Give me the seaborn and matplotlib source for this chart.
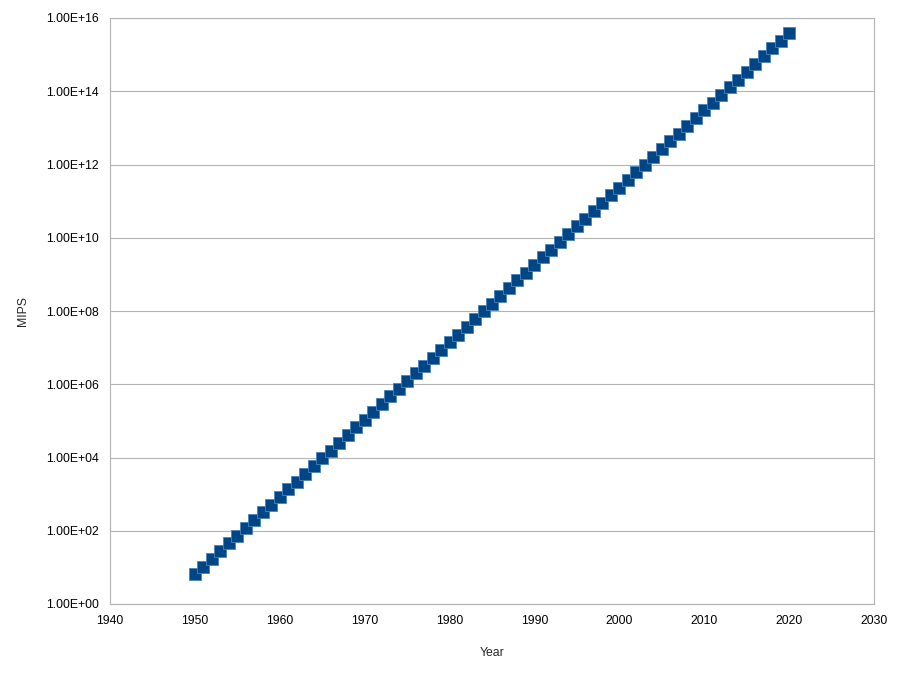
import numpy as np
import pandas as pd
import matplotlib
matplotlib.use("Agg")
import matplotlib.pyplot as plt
import matplotlib.ticker as mticker
import seaborn as sns

# Data (one point per year)
years = list(range(1950, 2021))
mips = [
    6.5, 10.5, 17.1, 27.8, 45.2, 73.6, 120, 195, 316, 514,
    836, 1360, 2210, 3590, 5830, 9500, 15500, 25100, 40800, 66400,
    1.08e5, 1.75e5, 2.85e5, 4.63e5, 7.53e5, 1.23e6, 2.0e6, 3.24e6, 5.27e6, 8.57e6,
    1.39e7, 2.26e7, 3.68e7, 5.98e7, 9.72e7, 1.58e8, 2.58e8, 4.19e8, 6.81e8, 1.11e9,
    1.80e9, 2.92e9, 4.75e9, 7.73e9, 1.26e10, 2.05e10, 3.33e10, 5.41e10, 8.79e10, 1.43e11,
    2.32e11, 3.78e11, 6.14e11, 9.98e11, 1.62e12, 2.64e12, 4.30e12, 6.98e12, 1.14e13, 1.85e13,
    3.00e13, 4.88e13, 7.93e13, 1.29e14, 2.09e14, 3.41e14, 5.55e14, 9.02e14, 1.47e15, 2.38e15,
    3.87e15,
]
x_ticks = [1940, 1950, 1960, 1970, 1980, 1990, 2000, 2010, 2020, 2030]
y_ticks = [1e0, 1e2, 1e4, 1e6, 1e8, 1e10, 1e12, 1e14, 1e16]

df = pd.DataFrame({"Year": years, "MIPS": mips})

sns.set_style("white")
plt.rcParams["font.family"] = ["Liberation Sans", "DejaVu Sans"]


def sci_label(v, pos):
    exp = int(round(np.log10(v)))
    return "%.2fE+%02d" % (v / 10 ** exp, exp)


fig = plt.figure(figsize=(9.01, 6.77), dpi=100)
ax = fig.add_axes([110 / 901, 73 / 677, 764 / 901, 586 / 677])

sns.lineplot(data=df, x="Year", y="MIPS", color="#004586", linewidth=2.5, ax=ax, zorder=2)
sns.scatterplot(data=df, x="Year", y="MIPS", marker="s", s=68,
                color="#004586", edgecolor="#4a82bb", linewidth=0.6, ax=ax, zorder=3)

ax.set_yscale("log")
ax.set_xlim(1940, 2030)
ax.set_ylim(1, 1e16)
ax.set_xticks(x_ticks)
ax.set_yticks(y_ticks)
ax.yaxis.set_minor_locator(mticker.NullLocator())
ax.yaxis.set_major_formatter(mticker.FuncFormatter(sci_label))

ax.grid(axis="y", color="#b3b3b3", linewidth=0.8)
ax.grid(axis="x", visible=False)
for sp in ax.spines.values():
    sp.set_color("#b3b3b3")
    sp.set_linewidth(0.8)
ax.tick_params(axis="both", which="major", direction="out", length=5,
               color="#b3b3b3", width=0.8, labelsize=8.8, labelcolor="black", pad=3)

ax.set_xlabel("Year", fontsize=8.8, labelpad=14)
ax.set_ylabel("MIPS", fontsize=8.8, labelpad=12)

fig.savefig("out.png", dpi=100)
